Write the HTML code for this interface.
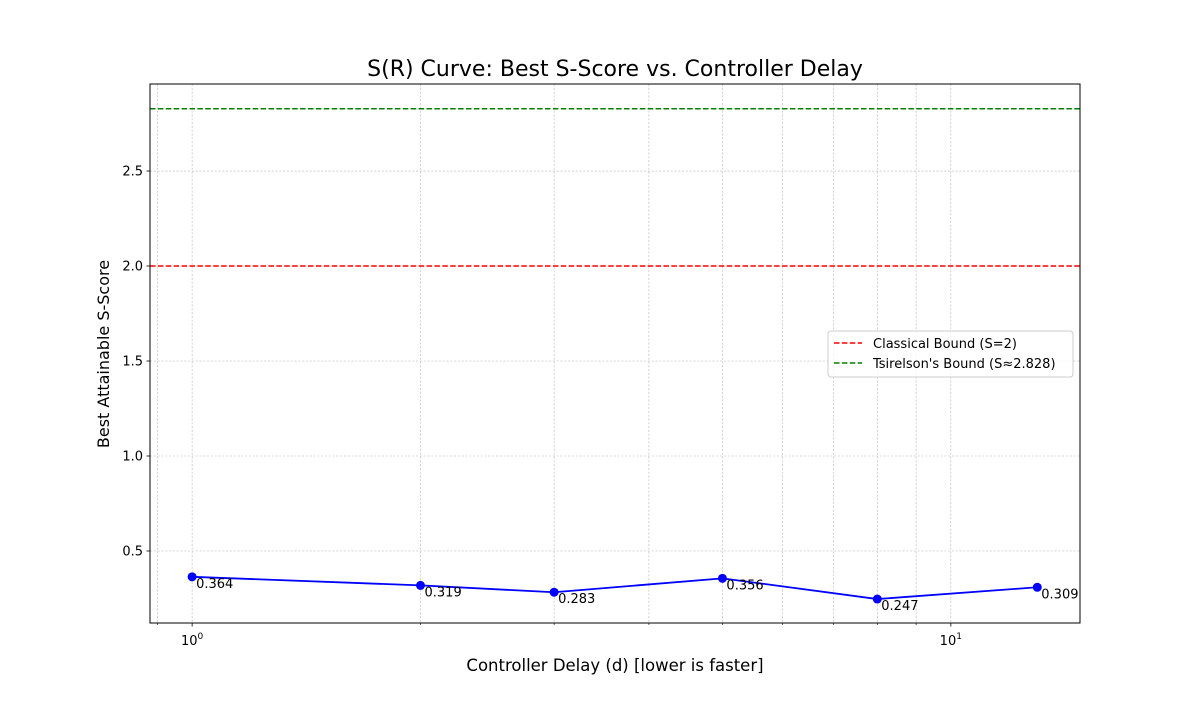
<!DOCTYPE html>
<html><head><meta charset="utf-8"><style>
body{margin:0;background:#fff;font-family:"Liberation Sans","DejaVu Sans",sans-serif}
svg text{font-family:"DejaVu Sans","Liberation Sans",sans-serif}
</style></head><body>
<svg id="chart" width="1200" height="700" xmlns="http://www.w3.org/2000/svg">
<rect width="1200" height="700" fill="#fff"/>
<g id="grid"></g>
<g id="hlines"></g>
<g id="series"></g>
<rect x="150" y="84" width="930" height="539" fill="none" stroke="#000" stroke-width="1"/>
<g id="axes"></g>
<text x="615" y="76" text-anchor="middle" font-size="22">S(R) Curve: Best S-Score vs. Controller Delay</text>
<text x="615" y="671" text-anchor="middle" font-size="16.5">Controller Delay (d) [lower is faster]</text>
<text x="109" y="354" text-anchor="middle" font-size="16" transform="rotate(-90 109 354)">Best Attainable S-Score</text>
<g>
<rect x="828" y="331" width="245" height="46" rx="3" fill="#fff" fill-opacity="0.8" stroke="#ccc"/>
<line x1="834" y1="343" x2="862" y2="343" stroke="red" stroke-width="1.5" stroke-dasharray="5.5,2.4"/>
<text x="873" y="348" font-size="13">Classical Bound (S=2)</text>
<line x1="834" y1="363" x2="862" y2="363" stroke="green" stroke-width="1.5" stroke-dasharray="5.5,2.4"/>
<text x="873" y="368" font-size="13">Tsirelson's Bound (S≈2.828)</text>
</g>
</svg>
<script>
const delays=[1,2,3,5,8,13];
const scores=[0.364,0.319,0.283,0.356,0.247,0.309];
const yTicks=[0.5,1.0,1.5,2.0,2.5];
const bounds=[2.0,2.828];
const boundColors=['red','green'];
const NS='http://www.w3.org/2000/svg';
const L=150,R=1080,T=84,B=623;
const xmin=Math.log10(0.88),xmax=Math.log10(14.8);
const x=v=>L+(Math.log10(v)-xmin)/(xmax-xmin)*(R-L);
const ymin=0.121,ymax=2.958;
const y=v=>B-(v-ymin)/(ymax-ymin)*(B-T);
function mk(t,a,p){const e=document.createElementNS(NS,t);for(const k in a)e.setAttribute(k,a[k]);p.appendChild(e);return e;}
const grid=document.getElementById('grid'),axes=document.getElementById('axes');
const xt=[0.9];for(let d=0;d<2;d++)for(let m=1;m<10;m++)xt.push(m*Math.pow(10,d));
xt.forEach(v=>{const px=x(v);if(px<L||px>R)return;const major=(v===1||v===10);
const g=mk('line',{x1:px,x2:px,y1:T,y2:B,stroke:'#b8b8b8','stroke-width':0.6,'stroke-dasharray':'2.2,1.6'},grid);

const t=mk('line',{x1:px,x2:px,y1:B,y2:B+(major?3.5:2),stroke:'#000','stroke-width':major?0.8:0.6},axes);

if(major){const tx=mk('text',{x:px,y:B+22,'text-anchor':'middle','font-size':13},axes);tx.textContent='10';
const s=mk('tspan',{dy:-6,'font-size':9},tx);s.textContent=v===1?'0':'1';
}
});
yTicks.forEach(v=>{const py=y(v);
const g=mk('line',{x1:L,x2:R,y1:py,y2:py,stroke:'#b8b8b8','stroke-width':0.6,'stroke-dasharray':'2.2,1.6'},grid);

const t=mk('line',{x1:L-3.5,x2:L,y1:py,y2:py,stroke:'#000','stroke-width':0.8},axes);

const tx=mk('text',{x:L-7,y:py+4.5,'text-anchor':'end','font-size':13},axes);tx.textContent=v.toFixed(1);
});
const hl=document.getElementById('hlines');
bounds.forEach((b,i)=>{const l=mk('line',{x1:L,x2:R,y1:y(b),y2:y(b),stroke:boundColors[i],'stroke-width':1.5,'stroke-dasharray':'5.5,2.4'},hl);
});
const s=document.getElementById('series');
const pl=mk('polyline',{points:delays.map((d,i)=>x(d)+','+y(scores[i])).join(' '),fill:'none',stroke:'blue','stroke-width':1.8},s);

delays.forEach((d,i)=>{const c=mk('circle',{cx:x(d),cy:y(scores[i]),r:4.5,fill:'blue'},s);

const t=mk('text',{x:x(d)+4,y:y(scores[i])+11,'font-size':13},s);t.textContent=scores[i].toFixed(3);
});
</script>
</body></html>
